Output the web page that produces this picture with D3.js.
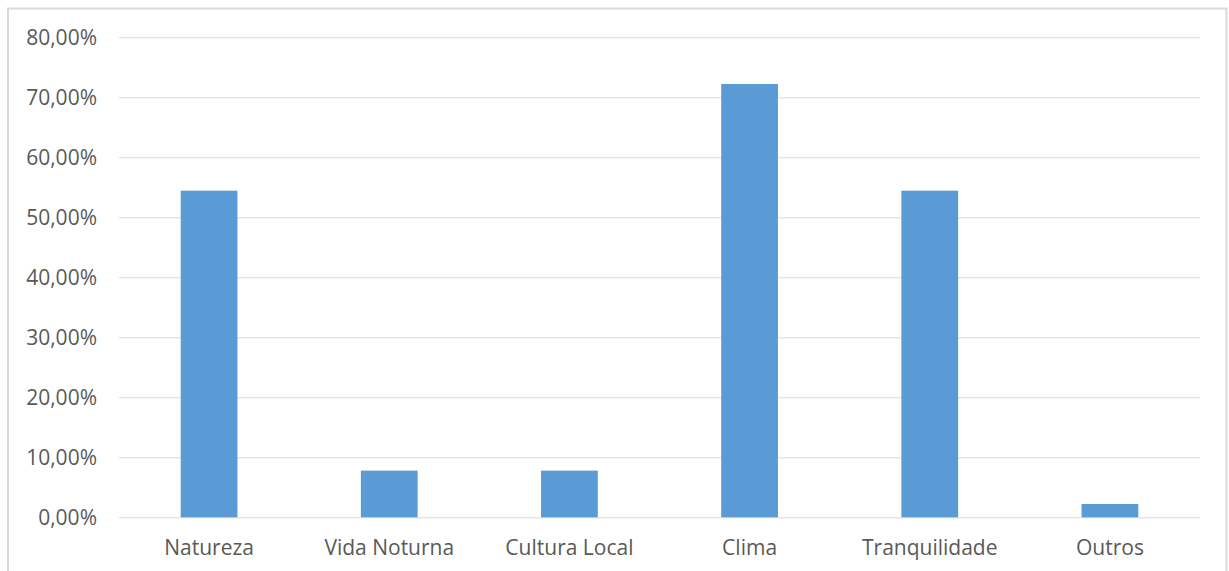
<!DOCTYPE html>
<html><head><meta charset="utf-8">
<script src="https://cdn.jsdelivr.net/npm/d3@7"></script>
<style>
html,body{margin:0;padding:0;background:#fff;}
svg{display:block;}
text{font-family:"Open Sans","Liberation Sans",sans-serif;fill:#595959;}
</style></head>
<body>
<svg id="chart" width="1229" height="571"></svg>
<script>
const categories = ["Natureza","Vida Noturna","Cultura Local","Clima","Tranquilidade","Outros"];
const values = [54.44, 7.78, 7.78, 72.22, 54.44, 2.22];
const yTicks = [0,10,20,30,40,50,60,70,80];

const pLeft = 119, pRight = 1200, pTop = 37.3, pBottom = 517.3;
const svg = d3.select("#chart");

svg.append("rect").attr("x",8).attr("y",8.5).attr("width",1218.5).attr("height",570)
  .attr("fill","#fff").attr("stroke","#d9d9d9").attr("stroke-width",2);

const x = d3.scaleBand().domain(categories).range([pLeft,pRight])
  .paddingInner(0.685).paddingOuter(0.3425);
const y = d3.scaleLinear().domain([0,80]).range([pBottom,pTop]);

const fmt = v => d3.format(".2f")(v).replace(".", ",") + "%";

const yAxis = d3.axisLeft(y).tickValues(yTicks).tickSize(-(pRight-pLeft)).tickFormat(fmt).tickPadding(22);
const gy = svg.append("g").attr("transform",`translate(${pLeft},0)`).call(yAxis);
gy.select(".domain").remove();
gy.selectAll(".tick line").attr("stroke","#d9d9d9").attr("stroke-width",1);
gy.selectAll(".tick text").attr("font-size",21).attr("fill","#595959").attr("dy","0.35em")
  .style("font-family",'"Open Sans","Liberation Sans",sans-serif');

svg.append("g").selectAll("rect").data(categories).join("rect")
  .attr("x",d=>x(d)).attr("width",x.bandwidth())
  .attr("y",(d,i)=>y(values[i])).attr("height",(d,i)=>y(0)-y(values[i]))
  .attr("fill","#5b9bd5");

const xAxis = d3.axisBottom(x).tickSize(0).tickPadding(23);
const gx = svg.append("g").attr("transform",`translate(0,${pBottom})`).call(xAxis);
gx.select(".domain").remove();
gx.selectAll(".tick text").attr("font-size",21).attr("fill","#595959")
  .style("font-family",'"Open Sans","Liberation Sans",sans-serif');
</script>
</body></html>
